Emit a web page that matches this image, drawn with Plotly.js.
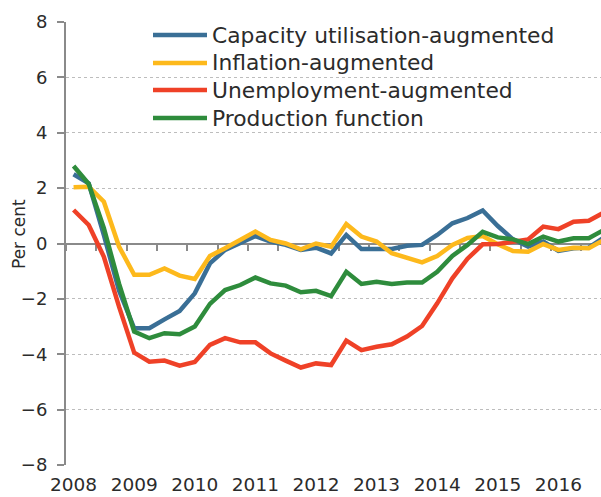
<!DOCTYPE html>
<html>
<head>
<meta charset="utf-8">
<script src="https://cdn.plot.ly/plotly-3.0.1.min.js"></script>
<style>
  html, body { margin: 0; padding: 0; background: #fff; }
  #chart { width: 601px; height: 497px; }
</style>
</head>
<body>
<div id="chart"></div>
<script>
// Quarterly output gap estimates, 2008 Q1 onwards (per cent)
const quarters = [
  "2008 Q1","2008 Q2","2008 Q3","2008 Q4","2009 Q1","2009 Q2","2009 Q3","2009 Q4",
  "2010 Q1","2010 Q2","2010 Q3","2010 Q4","2011 Q1","2011 Q2","2011 Q3","2011 Q4",
  "2012 Q1","2012 Q2","2012 Q3","2012 Q4","2013 Q1","2013 Q2","2013 Q3","2013 Q4",
  "2014 Q1","2014 Q2","2014 Q3","2014 Q4","2015 Q1","2015 Q2","2015 Q3","2015 Q4",
  "2016 Q1","2016 Q2","2016 Q3","2016 Q4"
];
const seriesNames = [
  "Capacity utilisation-augmented",
  "Inflation-augmented",
  "Unemployment-augmented",
  "Production function"
];
const capacityUtilisation = [
  2.5, 2.17, 0.3, -1.7, -3.06, -3.06, -2.74, -2.44,
  -1.8, -0.72, -0.23, 0.0, 0.27, 0.07, -0.05, -0.23,
  -0.15, -0.36, 0.31, -0.2, -0.21, -0.2, -0.08, -0.05,
  0.31, 0.73, 0.92, 1.19, 0.63, 0.15, -0.11, 0.07,
  -0.27, -0.17, -0.15, 0.22
];
const inflation = [
  2.03, 2.05, 1.51, -0.11, -1.13, -1.13, -0.9, -1.16,
  -1.28, -0.45, -0.17, 0.15, 0.43, 0.13, 0.0, -0.21,
  0.0, -0.12, 0.7, 0.25, 0.07, -0.35, -0.51, -0.68,
  -0.45, -0.05, 0.2, 0.27, -0.03, -0.27, -0.3, -0.02,
  -0.23, -0.15, -0.17, 0.13
];
const unemployment = [
  1.21, 0.67, -0.48, -2.28, -3.94, -4.27, -4.23, -4.41,
  -4.28, -3.66, -3.42, -3.57, -3.57, -3.97, -4.23, -4.48,
  -4.33, -4.39, -3.51, -3.85, -3.73, -3.64, -3.36, -2.98,
  -2.16, -1.26, -0.55, -0.03, -0.02, 0.07, 0.15, 0.61,
  0.52, 0.79, 0.82, 1.12
];
const productionFunction = [
  2.8, 2.15, 0.55, -1.45, -3.18, -3.42, -3.24, -3.28,
  -3.0, -2.18, -1.68, -1.5, -1.23, -1.44, -1.52, -1.76,
  -1.71, -1.9, -1.02, -1.46, -1.38, -1.46, -1.41, -1.41,
  -1.02, -0.45, -0.05, 0.42, 0.22, 0.15, -0.02, 0.25,
  0.07, 0.19, 0.19, 0.49
];
const yearTickPos = [0, 4, 8, 12, 16, 20, 24, 28, 32];
const yearTickText = ["2008","2009","2010","2011","2012","2013","2014","2015","2016"];
const yTickVals = [-8, -6, -4, -2, 0, 2, 4, 6, 8];
const yAxisTitle = "Per cent";

const colors = ["#3a6f96", "#fdb91c", "#ef4127", "#2e8c3c"];
const allSeries = [capacityUtilisation, inflation, unemployment, productionFunction];
const xIdx = quarters.map((q, i) => i);

const traces = allSeries.map((vals, k) => ({
  type: "scatter",
  mode: "lines",
  name: seriesNames[k],
  x: xIdx,
  y: vals,
  text: quarters,
  xaxis: k === allSeries.length - 1 ? "x2" : "x",
  yaxis: "y",
  line: { color: colors[k], width: 4.5 },
  hovertemplate: "%{text}: %{y:.1f}<extra>" + seriesNames[k] + "</extra>",
  showlegend: false
}));

// Manual legend layout (pixel positions converted to paper coordinates)
const plotL = 66, plotT = 22, plotW = 535, plotH = 443;
const px = x => (x - plotL) / plotW;
const py = y => (plotT + plotH - y) / plotH;
const legendRows = [35, 63, 90, 118];
const shapes = [];
const annotations = [];
seriesNames.forEach((nm, k) => {
  shapes.push({
    type: "line", xref: "paper", yref: "paper",
    x0: px(153), x1: px(207), y0: py(legendRows[k]), y1: py(legendRows[k]),
    line: { color: colors[k], width: 4.5 }
  });
  annotations.push({
    xref: "paper", yref: "paper", x: px(210), y: py(legendRows[k]),
    xanchor: "left", yanchor: "middle", showarrow: false,
    text: nm, font: { family: "DejaVu Sans", size: 21.8, color: "#2b2b2b" }
  });
});
annotations.push({
  xref: "paper", yref: "paper", x: px(19), y: py(234),
  xanchor: "center", yanchor: "middle", showarrow: false, textangle: -90,
  text: yAxisTitle, font: { family: "DejaVu Sans", size: 17, color: "#2b2b2b" }
});

const layout = {
  width: 601, height: 497,
  margin: { l: 66, r: 0, t: 22, b: 32, pad: 0 },
  paper_bgcolor: "#ffffff",
  plot_bgcolor: "#ffffff",
  showlegend: false,
  font: { family: "DejaVu Sans", color: "#2b2b2b", size: 18 },
  xaxis: {
    range: [-0.5, 34.81],
    tickmode: "array",
    tickvals: yearTickPos,
    ticktext: yearTickText,
    ticks: "",
    showline: false,
    showgrid: false,
    zeroline: false,
    automargin: false,
    ticklabelstandoff: 6,
    tickfont: { family: "DejaVu Sans", size: 18.5, color: "#2b2b2b" }
  },
  xaxis2: {
    overlaying: "x",
    anchor: "free",
    position: 0.5,
    range: [-0.5, 34.81],
    tickmode: "linear",
    tick0: -0.5,
    dtick: 2,
    ticks: "outside",
    ticklen: 6,
    tickwidth: 1.5,
    tickcolor: "#8a8a8a",
    showticklabels: false,
    showline: false,
    showgrid: false,
    zeroline: false,
    automargin: false,
    layer: "below traces"
  },
  yaxis: {
    range: [-8, 8],
    tickmode: "array",
    tickvals: yTickVals,
    ticks: "outside",
    ticklen: 7,
    tickwidth: 1.5,
    tickcolor: "#8a8a8a",
    showline: true,
    linecolor: "#8a8a8a",
    linewidth: 2,
    showgrid: true,
    gridcolor: "#bdbdbd",
    gridwidth: 1,
    griddash: "dot",
    zeroline: true,
    zerolinecolor: "#8a8a8a",
    zerolinewidth: 2,
    automargin: false,
    ticklabelstandoff: 6,
    tickfont: { family: "DejaVu Sans", size: 18, color: "#2b2b2b" }
  },
  shapes: shapes,
  annotations: annotations
};

Plotly.newPlot("chart", traces, layout, { displayModeBar: false });
</script>
</body>
</html>
